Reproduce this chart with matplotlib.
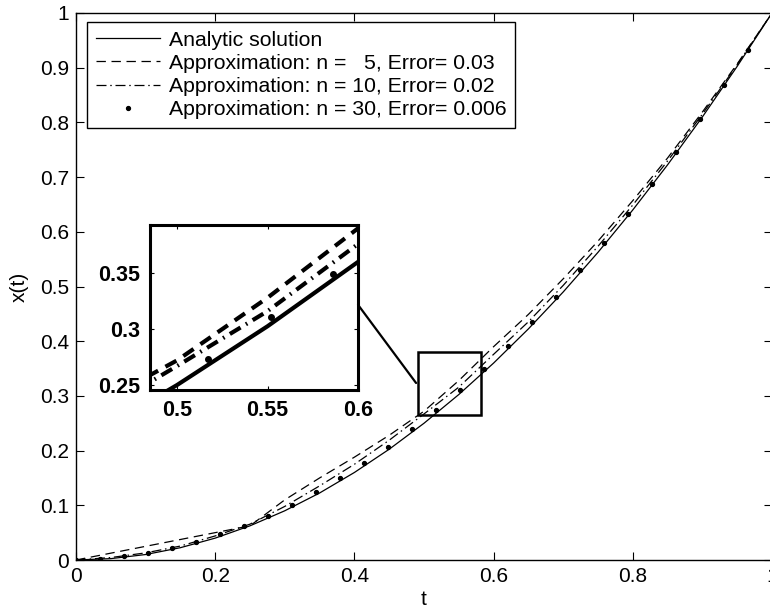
import numpy as np
import matplotlib
matplotlib.use("Agg")
import matplotlib.pyplot as plt
from matplotlib.patches import Rectangle, ConnectionPatch
from matplotlib.ticker import FuncFormatter

plt.rcParams['font.family'] = ['Liberation Sans', 'DejaVu Sans']

# ---- data ----
t_grid = [0.0, 0.05, 0.1, 0.15, 0.2, 0.25, 0.3, 0.35, 0.4, 0.45, 0.5,
          0.55, 0.6, 0.65, 0.7, 0.75, 0.8, 0.85, 0.9, 0.95, 1.0]
analytic = [0.0, 0.0025, 0.01, 0.0225, 0.04, 0.0625, 0.09, 0.1225, 0.16, 0.2025, 0.25,
            0.3025, 0.36, 0.4225, 0.49, 0.5625, 0.64, 0.7225, 0.81, 0.9025, 1.0]
approx_n5 = [0.0, 0.0125, 0.025, 0.0375, 0.05, 0.0625, 0.110, 0.150, 0.188, 0.228, 0.272,
             0.328, 0.390, 0.449, 0.514, 0.583, 0.657, 0.735, 0.819, 0.907, 1.0]
approx_n10 = [0.0, 0.0045, 0.013, 0.0255, 0.044, 0.0655, 0.098, 0.1355, 0.175, 0.219, 0.267,
              0.316, 0.376, 0.4355, 0.502, 0.5735, 0.649, 0.7295, 0.815, 0.9055, 1.0]
t_n30 = [0.0, 0.0345, 0.069, 0.1034, 0.1379, 0.1724, 0.2069, 0.2414, 0.2759, 0.3103,
         0.3448, 0.3793, 0.4138, 0.4483, 0.4828, 0.5172, 0.5517, 0.5862, 0.6207, 0.6552,
         0.6897, 0.7241, 0.7586, 0.7931, 0.8276, 0.8621, 0.8966, 0.931, 0.9655, 1.0]
approx_n30 = [0.0, 0.0022, 0.0068, 0.0127, 0.0220, 0.0327, 0.0468, 0.0623, 0.0811, 0.1013,
              0.1239, 0.1499, 0.1772, 0.2070, 0.2391, 0.2735, 0.3104, 0.3496, 0.3913, 0.4343,
              0.4806, 0.5294, 0.5795, 0.6330, 0.6879, 0.7462, 0.8058, 0.8688, 0.9332, 1.0]

labels = ['Analytic solution',
          'Approximation: n =   5, Error= 0.03',
          'Approximation: n = 10, Error= 0.02',
          'Approximation: n = 30, Error= 0.006']

main_xticks = [0, 0.2, 0.4, 0.6, 0.8, 1]
main_yticks = [0, 0.1, 0.2, 0.3, 0.4, 0.5, 0.6, 0.7, 0.8, 0.9, 1]
inset_xticks = [0.5, 0.55, 0.6]
inset_yticks = [0.25, 0.3, 0.35]
zoom_box = (0.491, 0.265, 0.582, 0.380)  # x0, y0, x1, y1

W, H = 770, 614
fig = plt.figure(figsize=(W / 100, H / 100), dpi=100)
ax = fig.add_axes([76 / W, 54 / H, 696 / W, 547 / H])

ax.plot(t_grid, analytic, color='k', lw=0.9, label=labels[0])
ax.plot(t_grid, approx_n5, color='k', lw=0.9, dashes=(7.5, 4.5), label=labels[1])
ax.plot(t_grid, approx_n10, color='k', lw=0.9, dashes=(8, 3, 1.2, 3), label=labels[2])
ax.plot(t_n30, approx_n30, ls='none', marker='o', ms=2.8, color='k', label=labels[3])

ax.set_xlim(0, 1)
ax.set_ylim(0, 1)
ax.set_xticks(main_xticks)
ax.set_yticks(main_yticks)
fmt = FuncFormatter(lambda v, p: ('%g' % v))
ax.xaxis.set_major_formatter(fmt)
ax.yaxis.set_major_formatter(fmt)
ax.tick_params(direction='in', length=6, width=0.8, top=True, right=True,
               labelsize=15, pad=5)
for s in ax.spines.values():
    s.set_linewidth(1.0)
ax.set_xlabel('t', fontsize=15, labelpad=3)
ax.set_ylabel('x(t)', fontsize=15, labelpad=8)

leg = ax.legend(loc='upper left', bbox_to_anchor=(11 / 696, 1 - 9 / 547),
                fontsize=15.3, frameon=True, fancybox=False, handlelength=3.05,
                handletextpad=0.4, borderpad=0.4, labelspacing=0.2,
                borderaxespad=0, numpoints=1)
leg.get_frame().set_edgecolor('k')
leg.get_frame().set_linewidth(1.0)
leg.get_frame().set_alpha(1)

# zoom rectangle
x0, y0, x1, y1 = zoom_box
ax.add_patch(Rectangle((x0, y0), x1 - x0, y1 - y0, fill=False, ec='k', lw=1.8, zorder=5))

# inset axes
ins = fig.add_axes([150 / W, (H - 390) / H, 208 / W, 165 / H])
ins.plot(t_grid, analytic, color='k', lw=3)
ins.plot(t_grid, approx_n5, color='k', lw=3, dashes=(3, 2))
ins.plot(t_grid, approx_n10, color='k', lw=3, dashes=(3, 1.5, 0.4, 1.5))
ins.plot(t_n30, approx_n30, ls='none', marker='o', ms=4, color='k')
ins.set_xlim(0.485, 0.6)
ins.set_ylim(0.2455, 0.393)
ins.set_xticks(inset_xticks)
ins.set_yticks(inset_yticks)
ins.xaxis.set_major_formatter(fmt)
ins.yaxis.set_major_formatter(fmt)
ins.tick_params(direction='in', length=3, width=0.8, top=True, right=True,
                labelsize=15.5, pad=7)
for lab in ins.get_xticklabels() + ins.get_yticklabels():
    lab.set_fontweight('bold')
for s in ins.spines.values():
    s.set_linewidth(2.2)

con = ConnectionPatch(xyA=(0.6, 0.3217), coordsA=ins.transData,
                      xyB=(0.4886, 0.3236), coordsB=ax.transData,
                      color='k', lw=1.6)
fig.add_artist(con)

fig.savefig('out.png', dpi=100)
